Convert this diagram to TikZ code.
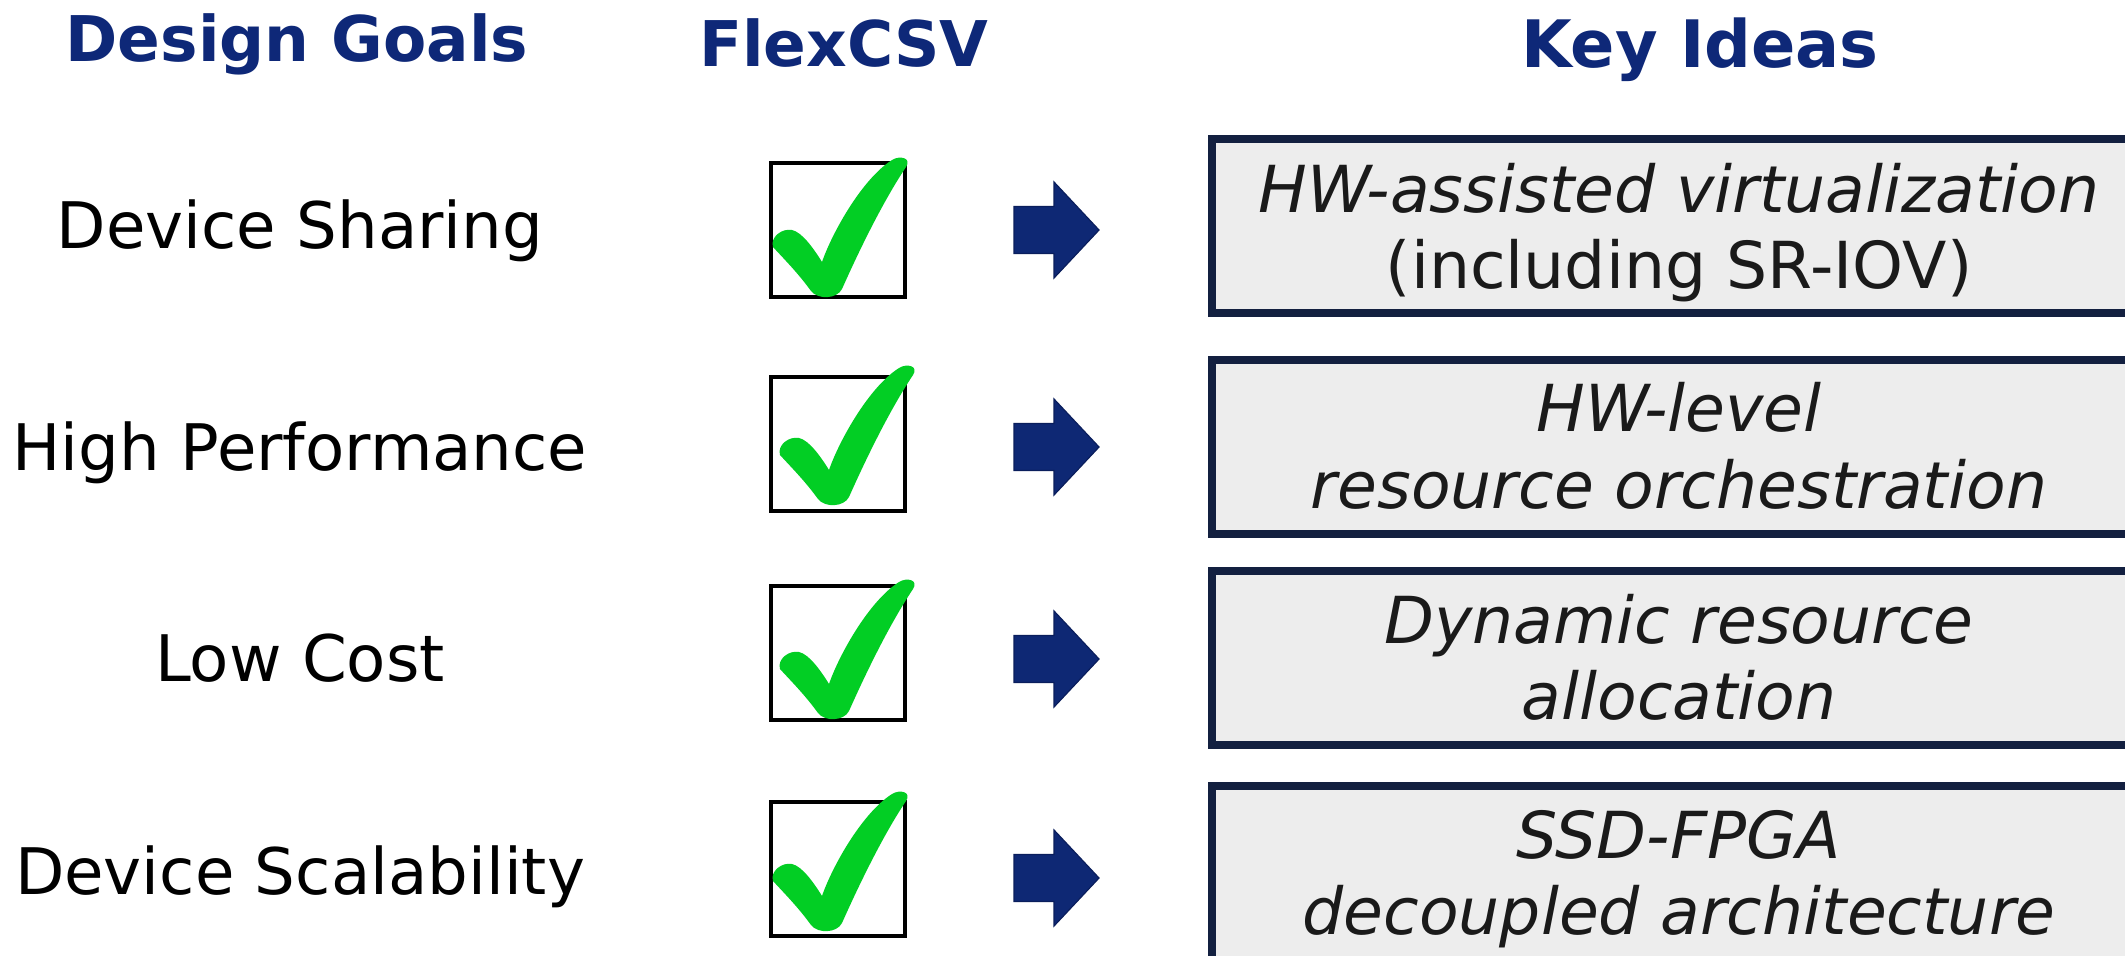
\documentclass[tikz,border=0pt]{standalone}
\usepackage{fontspec}
\setmainfont{DejaVu Sans}

\definecolor{headblue}{RGB}{14,40,120}
\definecolor{arrowblue}{RGB}{14,40,116}
\definecolor{arrowedge}{RGB}{10,30,92}
\definecolor{checkgreen}{RGB}{2,206,36}
\definecolor{ideaedge}{RGB}{19,32,64}
\definecolor{ideafill}{RGB}{237,237,237}
\definecolor{ideatext}{RGB}{26,26,26}

\begin{document}
\begin{tikzpicture}[x=0.5pt,y=-0.5pt,
  txt/.style={font=\fontsize{32.1pt}{38pt}\selectfont, inner sep=0pt, anchor=base},
  headtxt/.style={txt, font=\fontsize{31.5pt}{38pt}\selectfont\bfseries, text=headblue},
  ideatxt/.style={txt, font=\fontsize{32.4pt}{38pt}\selectfont, text=ideatext},
  cbox/.style={draw=black, line width=2pt, minimum width=67pt, minimum height=67pt, inner sep=0pt},
  ideabox/.style={draw=ideaedge, fill=ideafill, line width=4pt, minimum width=484pt, minimum height=87pt, inner sep=0pt},
  checkmark/.pic={
    \fill[checkgreen] (3,86)
      .. controls (0,76) and (12,67) .. (22,69)
      .. controls (32,71) and (44,88) .. (52,101)
      .. controls (62,72) and (92,18) .. (122,-1)
      .. controls (130,-6) and (142,-3) .. (136,6)
      .. controls (112,42) and (88,92) .. (72,128)
      .. controls (67,138) and (48,139) .. (41,130)
      .. controls (28,112) and (14,98) .. (3,86) -- cycle;
  },
  blockarrow/.pic={
    \filldraw[fill=arrowblue, draw=arrowedge, line width=0.6pt, line join=miter]
      (1014,-23.5) -- (1054,-23.5) -- (1054,-48) -- (1099,0)
      -- (1054,48) -- (1054,23.5) -- (1014,23.5) -- cycle;
  }]
\useasboundingbox (0,0) rectangle (2125,955);
\clip (0,0) rectangle (2125,955);
\fill[white] (0,0) rectangle (2125,955);

% column headings
\node[headtxt] (hgoals) at (297,61) {Design Goals};
\node[headtxt] (hflex)  at (844,66) {FlexCSV};
\node[headtxt, font=\fontsize{32.7pt}{38pt}\selectfont\bfseries] (hideas) at (1700,67) {Key Ideas};

% design goals
\node[txt] (g1) at (300,248) {Device Sharing};
\node[txt] (g2) at (300,470) {High Performance};
\node[txt] (g3) at (300,681) {Low Cost};
\node[txt] (g4) at (300,894) {Device Scalability};

% check boxes
\node[cbox] (c1) at (838,229.5) {};
\node[cbox] (c2) at (838,444) {};
\node[cbox] (c3) at (838,653) {};
\node[cbox] (c4) at (838,869) {};
\pic at (770,161) {checkmark};
\pic at (777,369) {checkmark};
\pic at (777,583) {checkmark};
\pic at (770,795) {checkmark};

% block arrows
\pic at (0,230) {blockarrow};
\pic at (0,447) {blockarrow};
\pic at (0,659) {blockarrow};
\pic at (0,878) {blockarrow};

% key idea boxes
\node[ideabox] (k1) at (1696,226) {};
\node[ideabox] (k2) at (1696,447) {};
\node[ideabox] (k3) at (1696,658) {};
\node[ideabox] (k4) at (1696,873) {};

\node[ideatxt] (k1a) at (1679,212) {\itshape HW-assisted virtualization};
\node[ideatxt] (k1b) at (1679,288) {(including SR-IOV)};
\node[ideatxt] (k2a) at (1679,431) {\itshape HW-level};
\node[ideatxt] (k2b) at (1679,508) {\itshape resource orchestration};
\node[ideatxt] (k3a) at (1679,643) {\itshape Dynamic resource};
\node[ideatxt] (k3b) at (1679,719) {\itshape allocation};
\node[ideatxt] (k4a) at (1679,858) {\itshape SSD-FPGA};
\node[ideatxt] (k4b) at (1679,934) {\itshape decoupled architecture};
\end{tikzpicture}
\end{document}
